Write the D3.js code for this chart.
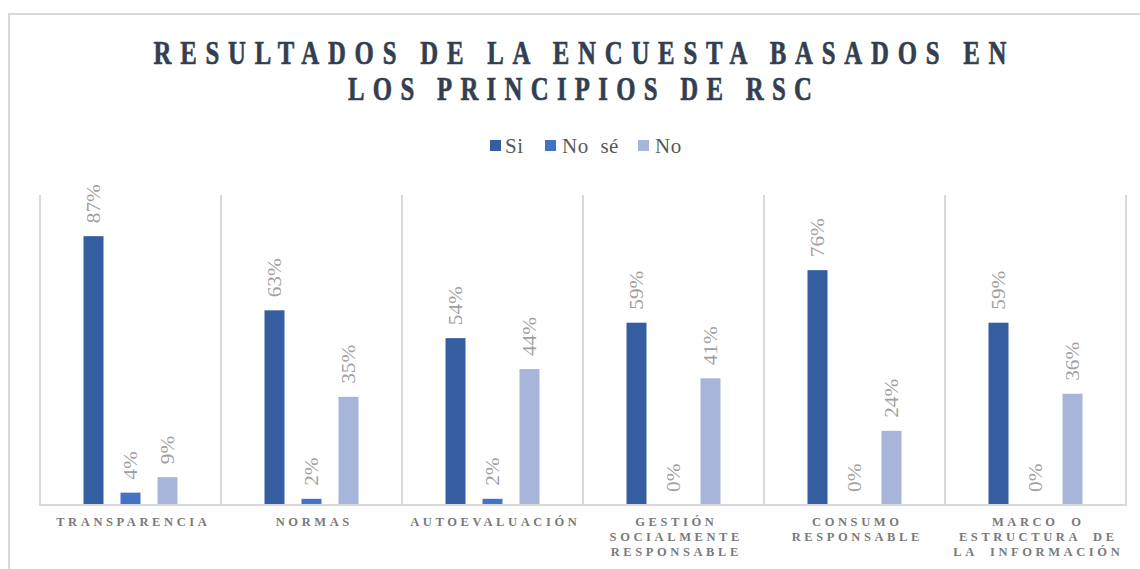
<!DOCTYPE html>
<html>
<head>
<meta charset="utf-8">
<script src="https://cdn.jsdelivr.net/npm/d3@7"></script>
<style>
  html, body { margin: 0; padding: 0; background: #fff; }
  svg { display: block; }
  .serif { font-family: "Liberation Serif", "Times New Roman", Times, serif; }
</style>
</head>
<body>
<svg id="chart" width="1140" height="569"></svg>
<script>
// ---- data ----
const titleLines = ["RESULTADOS DE LA ENCUESTA BASADOS EN", "LOS PRINCIPIOS DE RSC"];
const categories = ["Transparencia", "Normas", "Autoevaluación", "Gestión socialmente responsable", "Consumo responsable", "Marco o estructura de la información"];
const categoryLines = [["TRANSPARENCIA"], ["NORMAS"], ["AUTOEVALUACIÓN"], ["GESTIÓN", "SOCIALMENTE", "RESPONSABLE"], ["CONSUMO", "RESPONSABLE"], ["MARCO O", "ESTRUCTURA DE", "LA INFORMACIÓN"]];
const seriesNames = ["Si", "No sé", "No"];
const siValues = [0.87, 0.63, 0.54, 0.59, 0.76, 0.59];
const noSeValues = [0.04, 0.02, 0.02, 0, 0, 0];
const noValues = [0.09, 0.35, 0.44, 0.41, 0.24, 0.36];
const seriesColors = ["#355ea0", "#4472c4", "#a8b5da"];

// ---- layout ----
const svg = d3.select("#chart");
const plot = { left: 40, right: 1126, top: 195, bottom: 505 };
const gridColor = "#d9d9d9";

// outer chart border
svg.append("rect")
  .attr("x", 9).attr("y", 14).attr("width", 1160).attr("height", 600)
  .attr("fill", "none").attr("stroke", gridColor).attr("stroke-width", 2);

// title
const titleWidths = [853, 464];
const titleBaselines = [63.5, 100];
titleLines.forEach((t, i) => {
  const sx = 0.8;
  svg.append("g")
    .attr("transform", `translate(580,${titleBaselines[i]}) scale(${sx},1.08)`)
    .append("text")
    .attr("class", "serif")
    .attr("x", 0).attr("y", 0)
    .attr("text-anchor", "middle")
    .attr("textLength", titleWidths[i] / sx)
    .attr("lengthAdjust", "spacing")
    .attr("font-weight", "bold")
    .attr("font-size", 31)
    .attr("fill", "#333f50")
    .attr("stroke", "#333f50")
    .attr("stroke-width", 0.6)
    .text(t);
});

// scales
const x0 = d3.scaleBand().domain(categories).range([plot.left, plot.right]).padding(0);
const bw = x0.bandwidth();
const x1 = d3.scaleBand().domain(seriesNames)
  .range([bw / 2 - 47, bw / 2 + 47]).paddingInner(17 / 37).paddingOuter(0);
const y = d3.scaleLinear().domain([0, 1]).range([plot.bottom, plot.top + 1]);

// legend
const legendItems = [
  { name: seriesNames[0], sq: 490, tx: 505 },
  { name: seriesNames[1], sq: 545, tx: 562 },
  { name: seriesNames[2], sq: 638, tx: 655 }
];
legendItems.forEach((it, i) => {
  svg.append("rect").attr("x", it.sq).attr("y", 140).attr("width", 11).attr("height", 11)
    .attr("fill", seriesColors[i]);
  svg.append("text").attr("class", "serif").attr("x", it.tx).attr("y", 152.5)
    .attr("font-size", 21)
    .style("word-spacing", "6px")
    .style("letter-spacing", "0.5px")
    .attr("fill", "#595959").text(it.name);
});

// frame: vertical separators and bottom line
const frame = svg.append("g").attr("stroke", gridColor).attr("stroke-width", 2);
const bounds = categories.map(c => x0(c)).concat([plot.right]);
bounds.forEach(bx => {
  frame.append("line").attr("x1", bx).attr("x2", bx).attr("y1", plot.top).attr("y2", plot.bottom);
});
frame.append("line").attr("x1", plot.left - 1).attr("x2", plot.right + 1)
  .attr("y1", plot.bottom).attr("y2", plot.bottom);

// bars
const seriesValues = [siValues, noSeValues, noValues];
const groups = svg.append("g").selectAll("g")
  .data(categories)
  .join("g")
  .attr("transform", d => `translate(${x0(d)},0)`);

groups.each(function (cat, ci) {
  const g = d3.select(this);
  seriesNames.forEach((s, si) => {
    const v = seriesValues[si][ci];
    const h = Math.max(0, plot.bottom - 1 - y(v));
    g.append("rect")
      .attr("x", x1(s)).attr("width", x1.bandwidth())
      .attr("y", y(v)).attr("height", h)
      .attr("fill", seriesColors[si]);
    const cx = x1(s) + x1.bandwidth() / 2;
    const ly = y(v) - 13;
    g.append("text")
      .attr("class", "serif")
      .attr("transform", `translate(${cx},${ly}) rotate(-90) scale(1.12,1)`)
      .attr("text-anchor", "start")
      .attr("dominant-baseline", "central")
      .attr("font-size", 19)
      .attr("fill", "#a0a0a0")
      .text(d3.format(".0%")(v));
  });
});

// category labels
const ls = 3.6;
groups.each(function (cat, ci) {
  const g = d3.select(this);
  const lines = categoryLines[ci];
  lines.forEach((ln, li) => {
    g.append("text")
      .attr("class", "serif")
      .attr("x", bw / 2 + ls / 2 + 1)
      .attr("y", 526 + li * 15)
      .attr("text-anchor", "middle")
      .attr("font-size", 12.5)
      .attr("font-weight", "bold")
      .style("letter-spacing", ls + "px")
      .style("word-spacing", "6px")
      .attr("fill", "#7a7a7a")
      .text(ln);
  });
});
</script>
</body>
</html>
